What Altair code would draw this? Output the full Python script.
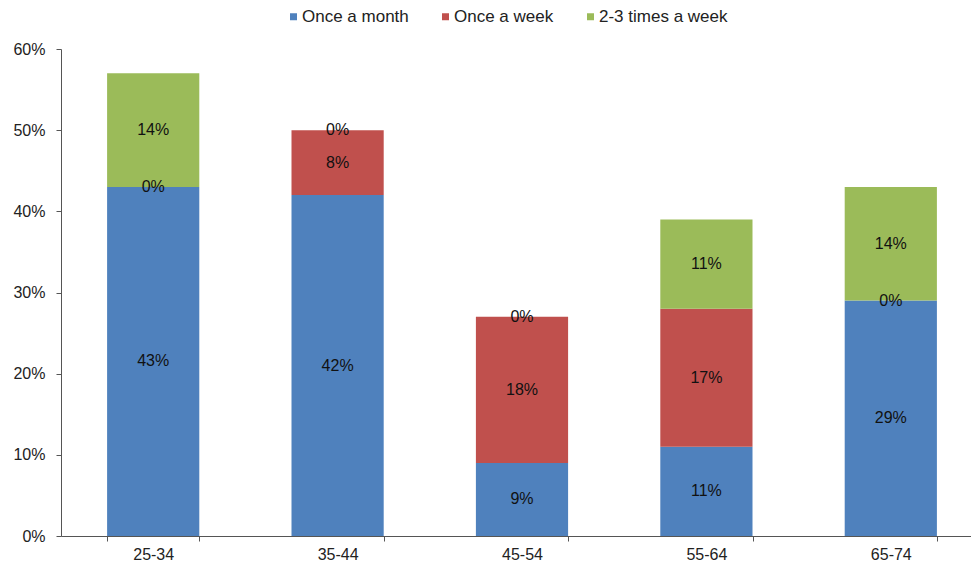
import altair as alt
import pandas as pd

ages = ["25-34", "35-44", "45-54", "55-64", "65-74"]
series = ["Once a month", "Once a week", "2-3 times a week"]
once_month = [43, 42, 9, 11, 29]
once_week = [0, 8, 18, 17, 0]
times_week = [14, 0, 0, 11, 14]
colors = ["#4F81BD", "#C0504D", "#9BBB59"]
y_ticks = [0, 10, 20, 30, 40, 50, 60]

rows = []
for i, a in enumerate(ages):
    for k, (s, vals) in enumerate(zip(series, [once_month, once_week, times_week])):
        rows.append({"age": a, "series": s, "value": vals[i], "order": k})
df = pd.DataFrame(rows)

FONT = "Liberation Sans"

base = alt.Chart(df).transform_stack(
    stack="value", groupby=["age"], sort=[alt.SortField("order")], as_=["y0", "y1"]
).transform_calculate(mid="(datum.y0 + datum.y1) / 2", lab="datum.value + '%'")

x_enc = alt.X(
    "age:N", sort=ages, title=None,
    scale=alt.Scale(paddingInner=0.5, paddingOuter=0.25, range=[0, 922]),
    axis=alt.Axis(labelAngle=0, tickBand="extent", tickSize=5, labelPadding=5,
                  labelFontSize=16, labelFont=FONT, labelColor="#222",
                  domainColor="#555", tickColor="#555", grid=False),
)

bars = base.mark_bar().encode(
    x=x_enc,
    y=alt.Y("y0:Q", title=None,
            scale=alt.Scale(domain=[0, 60], nice=False),
            axis=alt.Axis(values=y_ticks, labelExpr="datum.value + '%'", tickSize=5,
                          labelPadding=11, labelFontSize=16, labelFont=FONT,
                          labelColor="#222", domainColor="#555", tickColor="#555",
                          grid=False)),
    y2="y1:Q",
    color=alt.Color("series:N", sort=series,
                    scale=alt.Scale(domain=series, range=colors),
                    legend=alt.Legend(title=None, orient="none", direction="horizontal",
                                      legendX=224, legendY=-41, symbolType="square",
                                      symbolSize=49, symbolStrokeWidth=0,
                                      labelFontSize=17, labelFont=FONT, labelColor="#222",
                                      columnPadding=28, labelOffset=0)),
    order=alt.Order("order:Q"),
)

labels = base.mark_text(fontSize=16, font=FONT, color="#111").encode(
    x=alt.X("age:N", sort=ages),
    y=alt.Y("mid:Q"),
    text="lab:N",
)

chart = alt.layer(bars, labels).properties(
    width=908, height=487,
    padding={"left": 53, "top": 41, "right": 2, "bottom": 26},
    autosize=alt.AutoSizeParams(type="none"),
).configure_view(stroke=None)

chart.save("out.html", embed_options={"renderer": "svg", "actions": False})
